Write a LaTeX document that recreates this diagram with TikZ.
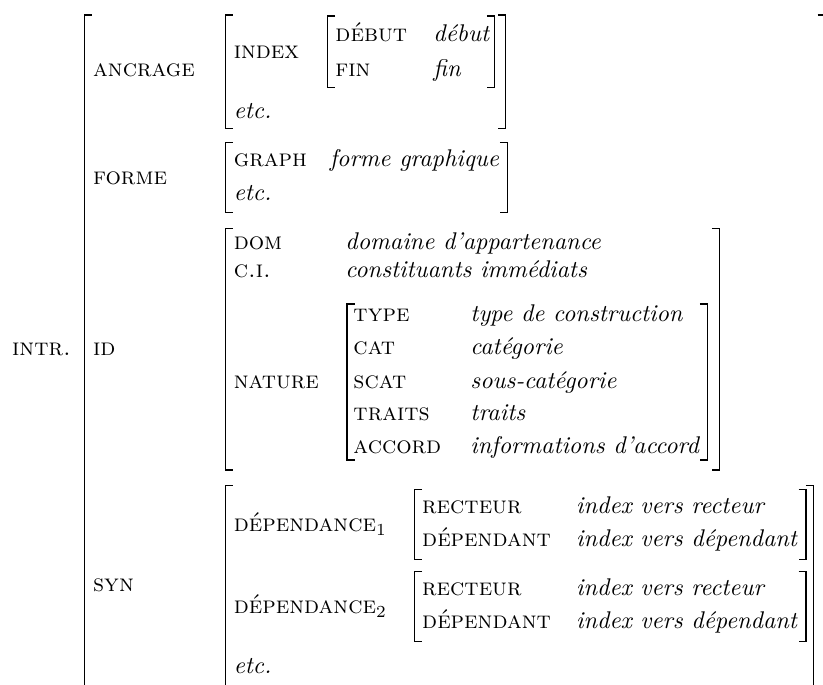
\documentclass[tikz,border=0pt]{standalone}
\usepackage{fontspec}
% bracket helpers: x, top y, bottom y
\newcommand\avmL[3]{\draw[brk] (#1+7.5,#2) -- (#1,#2) -- (#1,#3) -- (#1+7.5,#3);}
\newcommand\avmR[3]{\draw[brk] (#1-7.5,#2) -- (#1,#2) -- (#1,#3) -- (#1-7.5,#3);}
\begin{document}
\begin{tikzpicture}[x=0.414pt,y=-0.414pt,
  attr/.style={anchor=mid west,inner sep=0pt,font=\scshape},
  val/.style={anchor=mid west,inner sep=0pt,font=\itshape},
  brk/.style={line width=0.6pt,line join=miter}]
\useasboundingbox (0,0) rectangle (823,684);
\clip (0,0) rectangle (823,684);

% outermost structure
\node[attr] (intr) at (11.7,350.7) {intr.};
\avmL{84.3}{15}{720}
\avmR{825}{15}{720}

\node[attr] (ancrage) at (92.7,71.7) {ancrage};
\node[attr] (forme) at (92.7,179) {forme};
\node[attr] (id) at (92.7,350.7) {id};
\node[attr] (syn) at (92.7,586.7) {syn};

% ANCRAGE
\avmL{225.3}{15}{128.3}
\avmR{505.7}{15}{128.3}
\node[attr] (index) at (233.3,53.3) {index};
\node[val] (etcA) at (233.3,113.3) {etc.};
\avmL{327.5}{16}{87.7}
\avmR{494.3}{16}{87.7}
\node[attr] (debut) at (335,36.7) {début};
\node[attr] (fin) at (335,71.7) {fin};
\node[val] (vdebut) at (433,36.7) {début};
\node[val] (vfin) at (433,71.7) {fin};

% FORME
\avmL{225.3}{142.7}{212.7}
\avmR{507.3}{142.7}{212.7}
\node[attr] (graph) at (233.3,161.7) {graph};
\node[val] (vgraph) at (329.3,161.7) {forme graphique};
\node[val] (etcF) at (233.3,195) {etc.};

% ID
\avmL{225.3}{228.5}{470}
\avmR{719.3}{228.5}{470}
\node[attr] (dom) at (233.3,244) {dom};
\node[val] (vdom) at (345,244) {domaine d'appartenance};
\node[attr] (ci) at (233.3,272.7) {c.i.};
\node[val] (vci) at (345,272.7) {constituants immédiats};
\node[attr] (nature) at (233.3,383) {nature};
\avmL{347}{304}{460}
\avmR{707.3}{304}{460}
\node[attr] (type) at (353,316) {type};
\node[val] (vtype) at (470,316) {type de construction};
\node[attr] (cat) at (353,349) {cat};
\node[val] (vcat) at (470,349) {catégorie};
\node[attr] (scat) at (353,383) {scat};
\node[val] (vscat) at (470,383) {sous-catégorie};
\node[attr] (traits) at (353,415) {traits};
\node[val] (vtraits) at (470,415) {traits};
\node[attr] (accord) at (353,448) {accord};
\node[val] (vaccord) at (470,448) {informations d'accord};

% SYN
\avmL{225.3}{485.5}{720}
\avmR{813.3}{485.5}{720}
\node[attr] (dep1) at (233.3,526.7) {dépendance$_1$};
\node[attr] (dep2) at (233.3,608.3) {dépendance$_2$};
\node[val] (etcS) at (233.3,668.3) {etc.};
\avmL{414.5}{489.5}{559.3}
\avmR{806}{489.5}{559.3}
\node[attr] (rec1) at (421.7,508.3) {recteur};
\node[val] (vrec1) at (575.7,508.3) {index vers recteur};
\node[attr] (dpd1) at (421.7,541.7) {dépendant};
\node[val] (vdpd1) at (575.7,541.7) {index vers dépendant};
\avmL{414.5}{571.7}{641.7}
\avmR{806}{571.7}{641.7}
\node[attr] (rec2) at (421.7,590) {recteur};
\node[val] (vrec2) at (575.7,590) {index vers recteur};
\node[attr] (dpd2) at (421.7,623.3) {dépendant};
\node[val] (vdpd2) at (575.7,623.3) {index vers dépendant};
\end{tikzpicture}
\end{document}
